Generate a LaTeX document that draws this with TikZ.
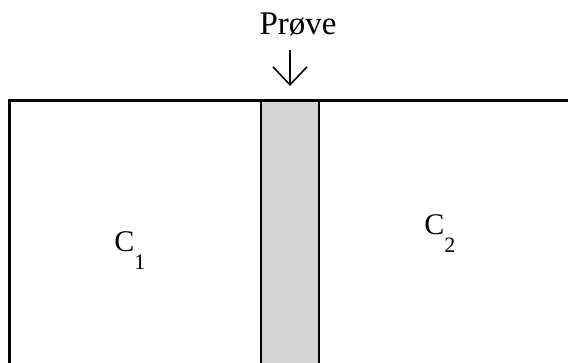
\documentclass[tikz,border=0pt]{standalone}
\usepackage{fontspec}
\setmainfont{Liberation Serif}
\usetikzlibrary{arrows.meta}

\begin{document}
\begin{tikzpicture}[x=0.5pt,y=-0.5pt,>={Straight Barb[length=9pt,width=17pt]},
  wall/.style={line width=1.5pt},
  cell/.style={font=\fontsize{15}{17}\selectfont,inner sep=0pt,anchor=base west}]
 \newcommand{\sublow}[1]{\raisebox{-9pt}{\fontsize{11}{12}\selectfont #1}}
 \useasboundingbox (0,0) rectangle (568,363);
 % sample strip
 \fill[black!16] (261,101) rectangle (319,363);
 \draw[line width=1.3pt] (261,101) -- (261,363) (319,101) -- (319,363);
 \draw[wall] (9,363) -- (9,101) -- (568,101);
 \node[font=\fontsize{16.5}{19}\selectfont,anchor=base] (probe) at (298,35) {Prøve};
 \coordinate (tip) at (290,86);
 \draw[->,line width=0.8pt] (290,50) -- (tip);
 \node[cell] (c1) at (114,252) {C\sublow{1}};
 \node[cell] (c2) at (424,235) {C\sublow{2}};
\end{tikzpicture}
\end{document}
